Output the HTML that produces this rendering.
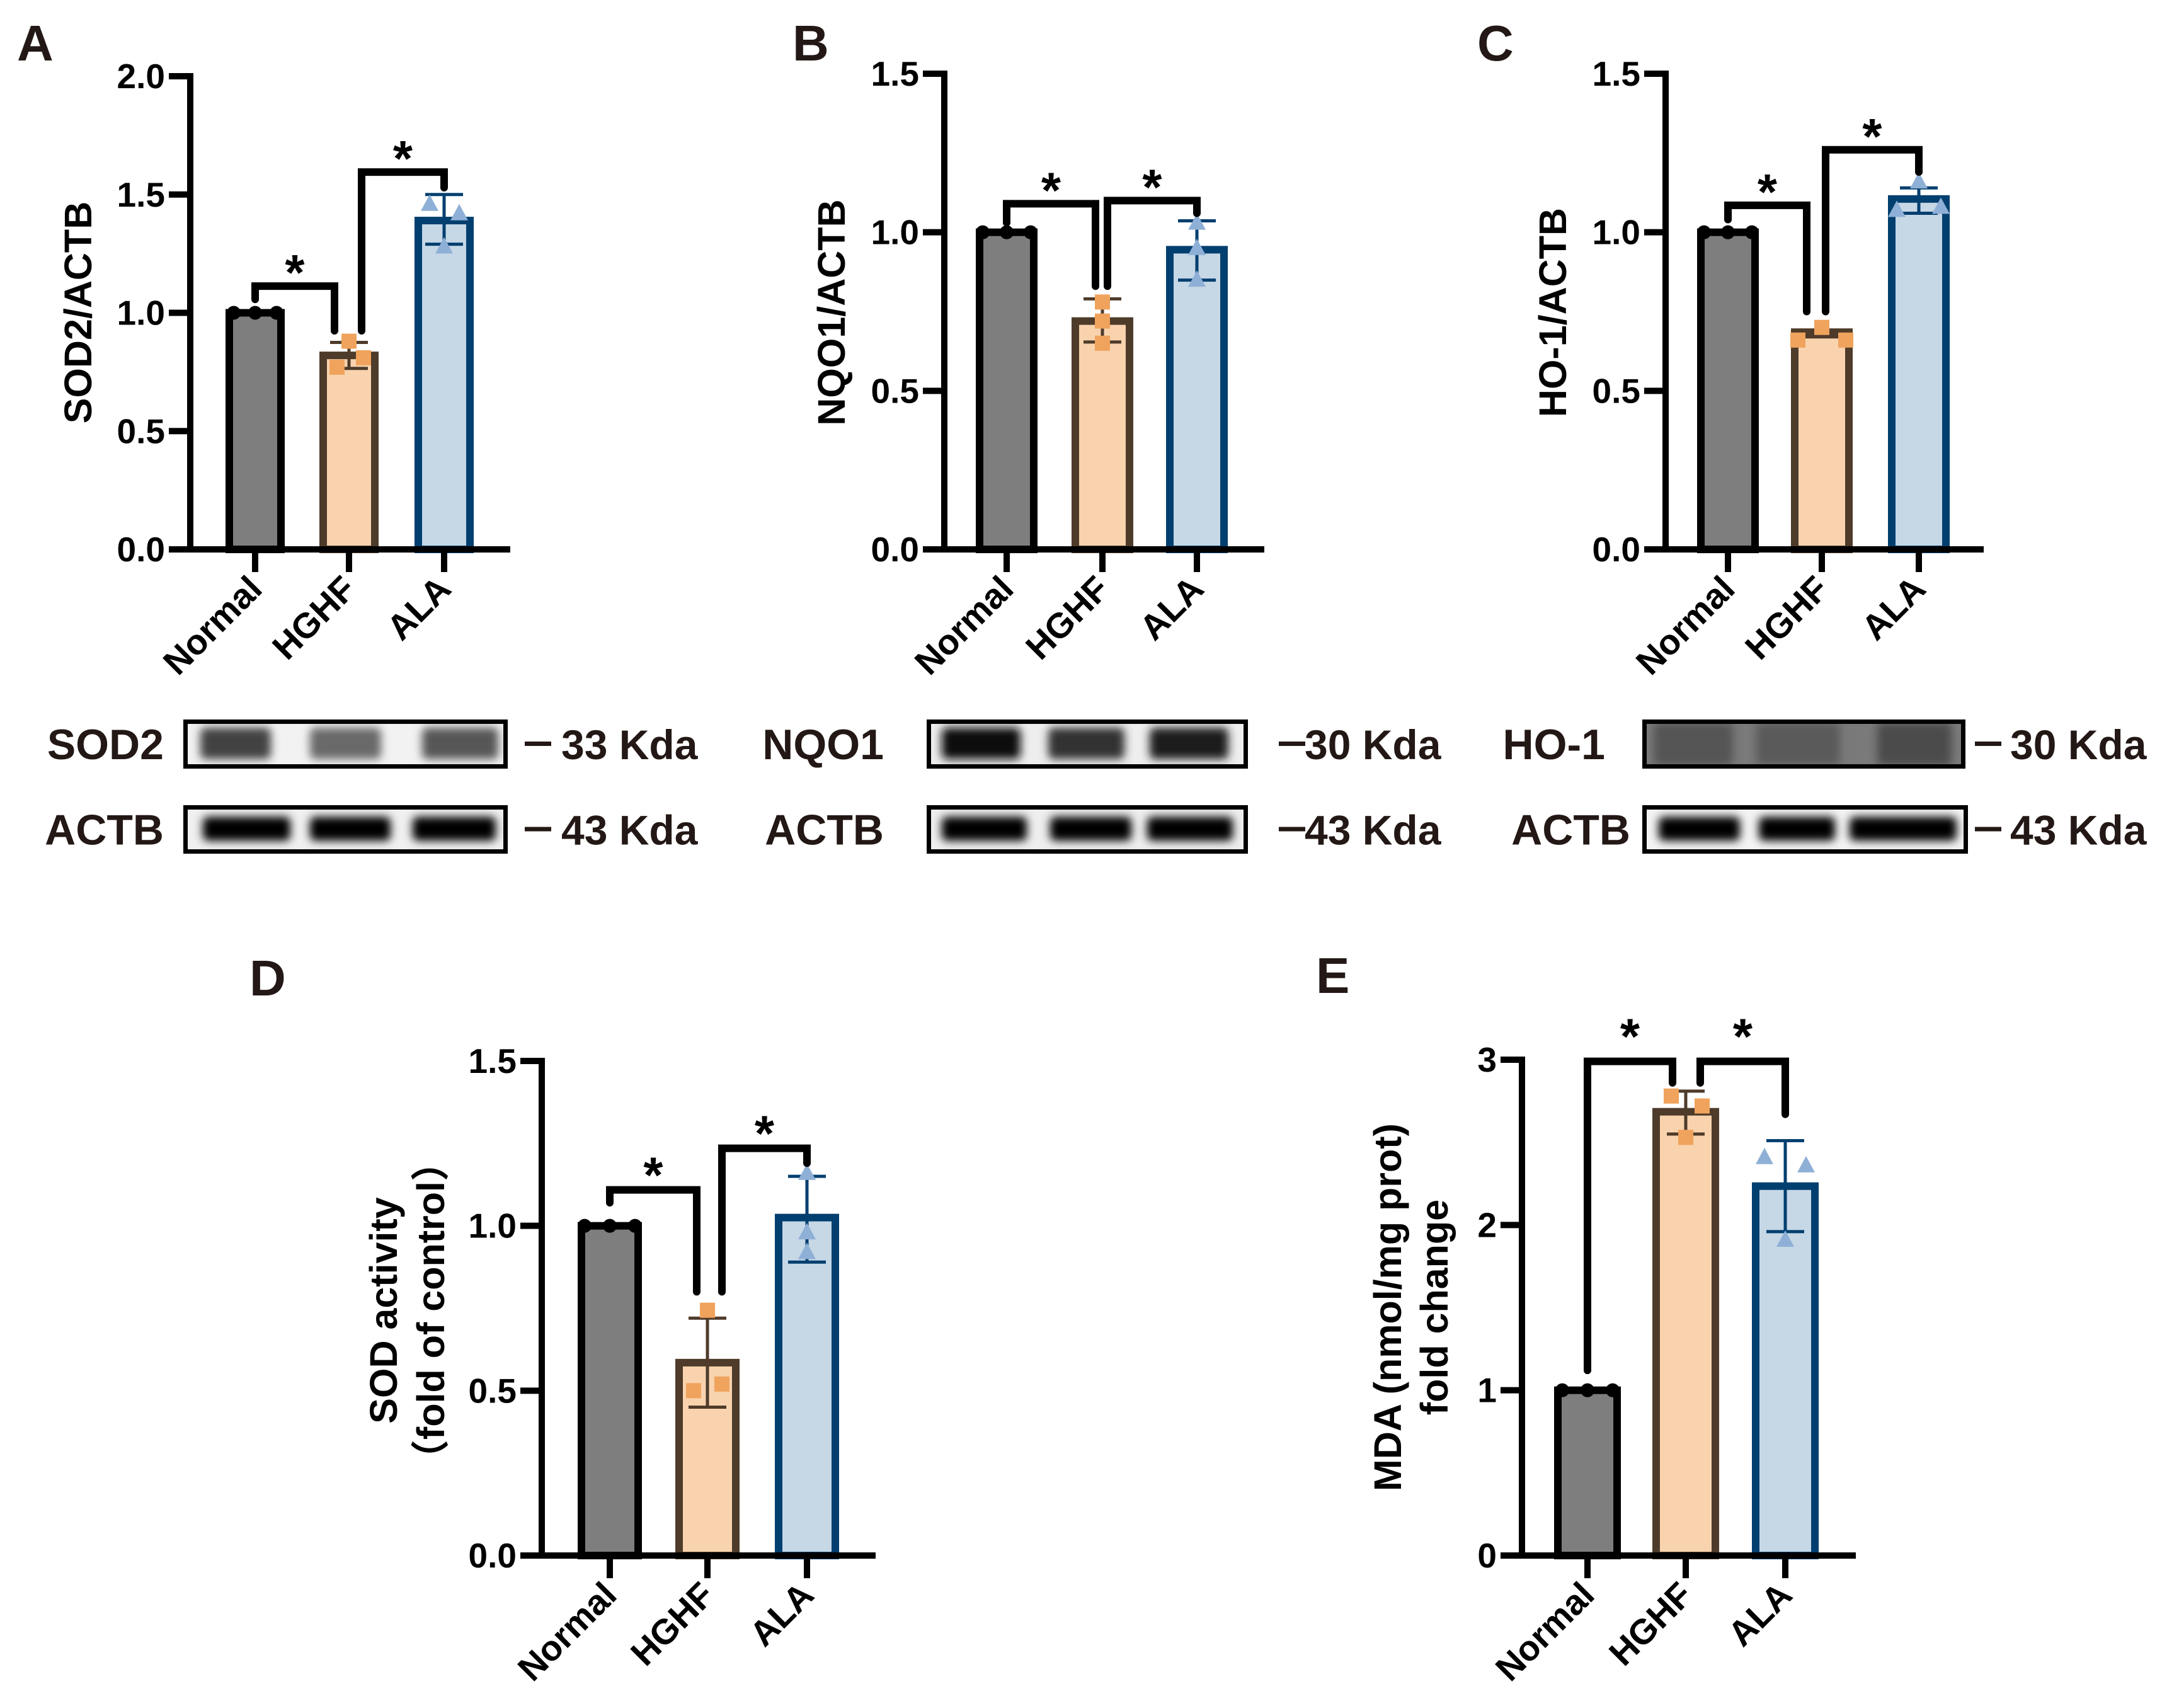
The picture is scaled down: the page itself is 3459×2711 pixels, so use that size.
<!DOCTYPE html>
<html><head><meta charset="utf-8"><title>Antioxidant markers figure</title>
<style>
html,body{margin:0;padding:0;background:#fff;}
svg{display:block;}
text{font-family:"Liberation Sans","Noto Sans CJK SC",sans-serif;font-weight:bold;}
</style></head>
<body>
<svg id="fig" xmlns="http://www.w3.org/2000/svg" width="3459" height="2711" viewBox="0 0 3459 2711">
<defs>
<filter id="blur" x="-30%" y="-50%" width="160%" height="200%"><feGaussianBlur stdDeviation="7"/></filter>
</defs>
<rect x="0" y="0" width="3459" height="2711" fill="#fff"/>
</svg>
<script>
// ---------- DATA ----------
const categories = ["Normal", "HGHF", "ALA"];

const meanA = [1.0, 0.82, 1.39];
const errLoA = [1.0, 0.765, 1.29];
const errHiA = [1.0, 0.875, 1.50];
const ptsNormalA = [1.0, 1.0, 1.0];
const ptsHghfA = [0.77, 0.88, 0.81];
const ptsAlaA = [1.46, 1.28, 1.42];
const ticksA = [0, 0.5, 1.0, 1.5, 2.0];
const tickLabelsA = ["0.0", "0.5", "1.0", "1.5", "2.0"];
const bracketStartA = [1.057, 0.924];
const bracketTopA = [1.113, 1.595];
const bracketEndA = [0.924, 1.529];

const meanB = [1.0, 0.72, 0.945];
const errLoB = [1.0, 0.654, 0.849];
const errHiB = [1.0, 0.79, 1.036];
const ptsNormalB = [1.0, 1.0, 1.0];
const ptsHghfB = [0.65, 0.72, 0.78];
const ptsAlaB = [0.85, 0.95, 1.03];
const ticksB = [0, 0.5, 1.0, 1.5];
const tickLabelsB = ["0.0", "0.5", "1.0", "1.5"];
const bracketStartB = [1.03, 0.83];
const bracketTopB = [1.09, 1.10];
const bracketEndB = [0.83, 1.06];

const meanC = [1.0, 0.685, 1.105];
const errLoC = [1.0, 0.67, 1.06];
const errHiC = [1.0, 0.69, 1.14];
const ptsNormalC = [1.0, 1.0, 1.0];
const ptsHghfC = [0.66, 0.70, 0.66];
const ptsAlaC = [1.07, 1.16, 1.08];
const ticksC = [0, 0.5, 1.0, 1.5];
const tickLabelsC = ["0.0", "0.5", "1.0", "1.5"];
const bracketStartC = [1.04, 0.75];
const bracketTopC = [1.085, 1.26];
const bracketEndC = [0.75, 1.19];

const meanD = [1.0, 0.585, 1.025];
const errLoD = [1.0, 0.45, 0.89];
const errHiD = [1.0, 0.72, 1.15];
const ptsNormalD = [1.0, 1.0, 1.0];
const ptsHghfD = [0.50, 0.744, 0.52];
const ptsAlaD = [0.92, 1.16, 0.98];
const ticksD = [0, 0.5, 1.0, 1.5];
const tickLabelsD = ["0.0", "0.5", "1.0", "1.5"];
const bracketStartD = [1.07, 0.80];
const bracketTopD = [1.109, 1.235];
const bracketEndD = [0.80, 1.19];

const meanE = [1.0, 2.685, 2.235];
const errLoE = [1.0, 2.55, 1.96];
const errHiE = [1.0, 2.81, 2.51];
const ptsNormalE = [1.0, 1.0, 1.0];
const ptsHghfE = [2.78, 2.53, 2.72];
const ptsAlaE = [2.41, 1.91, 2.36];
const ticksE = [0, 1, 2, 3];
const tickLabelsE = ["0", "1", "2", "3"];
const bracketStartE = [1.12, 2.86];
const bracketTopE = [2.99, 2.99];
const bracketEndE = [2.86, 2.67];

// ---------- LAYOUT / STYLE ----------
const NS = "http://www.w3.org/2000/svg";
const svg = document.getElementById("fig");
const INK = "#000";
const fills = ["#7f7e7e", "#f8d3ae", "#c6d7e6"];
const strokes = ["#000000", "#4e3b2a", "#003f6f"];
const ptColors = ["#000000", "#f0a35c", "#8fb0d6"];

function mk(tag, attrs, parent) {
  const el = document.createElementNS(NS, tag);
  for (const k in attrs) el.setAttribute(k, attrs[k]);
  (parent || svg).appendChild(el);
  return el;
}

const panels = [
  {id:"a", letter:"A", lx:27, ly:96, axisX:302, zeroY:872, topY:121, ymax:2.0, centers:[405,554,705], barW:94, axisEnd:810,
   ylabel:["SOD2/ACTB"], ylx:[124], yly:496, legOff:[-23,20], starGap:40,
   mean:meanA, lo:errLoA, hi:errHiA, pts:[ptsNormalA, ptsHghfA, ptsAlaA], ticks:ticksA, tl:tickLabelsA,
   bs:bracketStartA, bt:bracketTopA, be:bracketEndA, offs:[[-34,0,34],[-19,0,23],[-23,0,24]]},
  {id:"b", letter:"B", lx:1258, ly:96, axisX:1499, zeroY:872, topY:117, ymax:1.5, centers:[1598,1750,1900], barW:98, axisEnd:2007,
   ylabel:["NQO1/ACTB"], ylx:[1320], yly:496, legOff:[-11,8], starGap:40,
   mean:meanB, lo:errLoB, hi:errHiB, pts:[ptsNormalB, ptsHghfB, ptsAlaB], ticks:ticksB, tl:tickLabelsB,
   bs:bracketStartB, bt:bracketTopB, be:bracketEndB, offs:[[-38,0,38],[0,0,0],[0,0,0]]},
  {id:"c", letter:"C", lx:2345, ly:96, axisX:2644, zeroY:872, topY:117, ymax:1.5, centers:[2743,2892,3046], barW:98, axisEnd:3149,
   ylabel:["HO-1/ACTB"], ylx:[2465], yly:496, legOff:[-24,6], starGap:40,
   mean:meanC, lo:errLoC, hi:errHiC, pts:[ptsNormalC, ptsHghfC, ptsAlaC], ticks:ticksC, tl:tickLabelsC,
   bs:bracketStartC, bt:bracketTopC, be:bracketEndC, offs:[[-38,0,38],[-38,0,38],[-35,0,35]]},
  {id:"d", letter:"D", lx:396, ly:1580, axisX:860, zeroY:2469, topY:1684, ymax:1.5, centers:[968,1123,1281], barW:102, axisEnd:1390,
   ylabel:["SOD activity","（fold of control）"], ylx:[609,684], yly:2080, legOff:[-17,23], starGap:42,
   mean:meanD, lo:errLoD, hi:errHiD, pts:[ptsNormalD, ptsHghfD, ptsAlaD], ticks:ticksD, tl:tickLabelsD,
   bs:bracketStartD, bt:bracketTopD, be:bracketEndD, offs:[[-40,0,40],[-22,0,23],[0,0,0]]},
  {id:"e", letter:"E", lx:2089, ly:1576, axisX:2416, zeroY:2469, topY:1682, ymax:3, centers:[2520,2676,2834], barW:106, axisEnd:2946,
   ylabel:["MDA (nmol/mg prot)","fold change"], ylx:[2203,2277], yly:2075, legOff:[-21,23], starGap:58,
   mean:meanE, lo:errLoE, hi:errHiE, pts:[ptsNormalE, ptsHghfE, ptsAlaE], ticks:ticksE, tl:tickLabelsE,
   bs:bracketStartE, bt:bracketTopE, be:bracketEndE, offs:[[-40,0,40],[-23,0,26],[-33,0,33]]}
];

panels.forEach(p => {
  const g = mk("g", {});
  
  
  const y = v => p.zeroY - (v / p.ymax) * (p.zeroY - p.topY);

  const letter = mk("text", {x:p.lx, y:p.ly, "font-size":80, fill:"#231815"}, g);
  letter.textContent = p.letter;
  
  

  p.ylabel.forEach((s, i) => {
    const t = mk("text", {x:p.ylx[i], y:p.yly, "font-size":61, fill:INK, "text-anchor":"middle", "dominant-baseline":"central",
      transform:"rotate(-90 " + p.ylx[i] + " " + p.yly + ")"}, g);
    t.textContent = s;
    
    
  });

  categories.forEach((c, i) => {
    const cx = p.centers[i], w = p.barW, top = y(p.mean[i]);
    const r = mk("rect", {x:cx - w/2 + 6, y:top, width:w - 12, height:p.zeroY - top, fill:fills[i], stroke:strokes[i], "stroke-width":12}, g);
    
    
  });

  categories.forEach((c, i) => {
    if (p.hi[i] === p.lo[i]) return;
    const cx = p.centers[i];
    const col = i === 2 ? "#003f6f" : "#4e3b2a";
    const eg = mk("g", {stroke:col, "stroke-width":5}, g);
    
    
    mk("line", {x1:cx, x2:cx, y1:y(p.lo[i]), y2:y(p.hi[i])}, eg);
    mk("line", {x1:cx - 30, x2:cx + 30, y1:y(p.lo[i]), y2:y(p.lo[i])}, eg);
    mk("line", {x1:cx - 30, x2:cx + 30, y1:y(p.hi[i]), y2:y(p.hi[i])}, eg);
  });

  p.pts.forEach((arr, i) => {
    arr.forEach((v, k) => {
      const px = p.centers[i] + p.offs[i][k], py = y(v);
      let el;
      if (i === 0) el = mk("circle", {cx:px, cy:py, r:11, fill:ptColors[0]}, g);
      else if (i === 1) el = mk("rect", {x:px - 12, y:py - 12, width:24, height:24, fill:ptColors[1]}, g);
      else el = mk("polygon", {points:(px)+","+(py-15)+" "+(px-14)+","+(py+11)+" "+(px+14)+","+(py+11), fill:ptColors[2]}, g);
      
      
    });
  });

  const ax = mk("line", {x1:p.axisX, x2:p.axisX, y1:p.topY - 5, y2:p.zeroY + 5, stroke:INK, "stroke-width":10}, g);
  
  
  const xa = mk("line", {x1:p.axisX - 5, x2:p.axisEnd, y1:p.zeroY, y2:p.zeroY, stroke:INK, "stroke-width":10}, g);
  
  

  p.ticks.forEach((v, i) => {
    const ty = y(v);
    const tk = mk("line", {x1:p.axisX - 34, x2:p.axisX, y1:ty, y2:ty, stroke:INK, "stroke-width":10}, g);
    
    
    const tt = mk("text", {x:p.axisX - 40, y:ty + 19, "font-size":55, fill:INK, "text-anchor":"end"}, g);
    tt.textContent = p.tl[i];
    
    
  });

  categories.forEach((c, i) => {
    const cx = p.centers[i];
    const tk = mk("line", {x1:cx, x2:cx, y1:p.zeroY, y2:p.zeroY + 36, stroke:INK, "stroke-width":10}, g);
    
    
    const lx = cx + 14, ly = p.zeroY + 66;
    const t = mk("text", {x:lx, y:ly, "font-size":56, fill:INK, "text-anchor":"end", transform:"rotate(-45 " + lx + " " + ly + ")"}, g);
    t.textContent = c;
    
    
  });

  [0, 1].forEach(b => {
    const x1 = b === 0 ? p.centers[0] : p.centers[1] + p.legOff[1];
    const x2 = b === 0 ? p.centers[1] + p.legOff[0] : p.centers[2];
    const yt = y(p.bt[b]);
    const br = mk("polyline", {points: x1 + "," + y(p.bs[b]) + " " + x1 + "," + yt + " " + x2 + "," + yt + " " + x2 + "," + y(p.be[b]),
      fill:"none", stroke:INK, "stroke-width":12, "stroke-linecap":"round", "stroke-linejoin":"miter"}, g);
    
    
    const st = mk("text", {x:(x1 + x2) / 2, y:yt - p.starGap + 46, "font-size":80, fill:INK, "text-anchor":"middle"}, g);
    st.textContent = "*";
    
    
  });
});

// ---------- WESTERN BLOTS ----------
const blotNames = ["SOD2", "ACTB", "NQO1", "ACTB", "HO-1", "ACTB"];
const blotKda = ["33 Kda", "43 Kda", "30 Kda", "43 Kda", "30 Kda", "43 Kda"];
const blotIntensity = [[0.7, 0.5, 0.6], [1, 1, 1], [1, 0.8, 0.9], [1, 1, 1], [0.35, 0.25, 0.5], [1, 1, 1]];

const blots = [
  {box:[291,806], y:[1142,1220], lab:[54,260], dash:833, txt:891, lanes:[[318,430],[492,605],[670,791]], bg:"#f2f2f2"},
  {box:[291,806], y:[1278,1355], lab:[54,260], dash:833, txt:891, lanes:[[322,461],[492,620],[655,787]], bg:"#f0f0f0"},
  {box:[1471,1981], y:[1142,1220], lab:[1201,1403], dash:2030, txt:2071, lanes:[[1495,1620],[1664,1785],[1825,1950]], bg:"#eeeeee"},
  {box:[1471,1981], y:[1278,1355], lab:[1201,1403], dash:2030, txt:2071, lanes:[[1495,1630],[1667,1796],[1821,1957]], bg:"#eeeeee"},
  {box:[2607,3120], y:[1142,1220], lab:[2385,2548], dash:3135, txt:3191, lanes:[[2625,2751],[2788,2921],[2980,3098]], bg:"#7a7a7a"},
  {box:[2607,3124], y:[1278,1355], lab:[2385,2588], dash:3135, txt:3191, lanes:[[2633,2762],[2792,2913],[2936,3106]], bg:"#f3f3f3"}
];

blots.forEach((b, i) => {
  const g = mk("g", {});
  
  
  const cid = "clip" + i;
  const cp = mk("clipPath", {id:cid}, g);
  mk("rect", {x:b.box[0], y:b.y[0], width:b.box[1]-b.box[0], height:b.y[1]-b.y[0]}, cp);
  const inner = mk("g", {"clip-path":"url(#" + cid + ")"}, g);
  mk("rect", {x:b.box[0], y:b.y[0], width:b.box[1]-b.box[0], height:b.y[1]-b.y[0], fill:b.bg}, inner);
  const mid = (b.y[0] + b.y[1]) / 2;
  b.lanes.forEach((l, k) => {
    const v = blotIntensity[i][k];
    const isActb = blotNames[i] === "ACTB";
    const shade = Math.round(isActb ? 0 : (i === 4 ? 105 - v * 60 : 200 - v * 190));
    const band = mk("rect", {x:l[0], y:isActb ? mid - 20 : (i === 4 ? mid - 34 : mid - 26), width:l[1]-l[0], height:isActb ? 38 : (i === 4 ? 68 : 50), rx:8,
      fill:"rgb(" + shade + "," + shade + "," + shade + ")", filter:"url(#blur)"}, inner);
    
    
  });
  mk("rect", {x:b.box[0]+3.5, y:b.y[0]+3.5, width:b.box[1]-b.box[0]-7, height:b.y[1]-b.y[0]-7, fill:"none", stroke:"#000", "stroke-width":7}, g);
  const nm = mk("text", {x:b.lab[1], y:mid + 24, "font-size":68, fill:"#231815", "text-anchor":"end"}, g);
  nm.textContent = blotNames[i];
  
  
  const d = mk("rect", {x:b.dash, y:mid - 4, width:42, height:7, fill:"#231815"}, g);
  
  
  const kt = mk("text", {x:b.txt, y:mid + 24, "font-size":66, fill:"#231815"}, g);
  kt.textContent = blotKda[i];
  
  
});
</script>
</body></html>
